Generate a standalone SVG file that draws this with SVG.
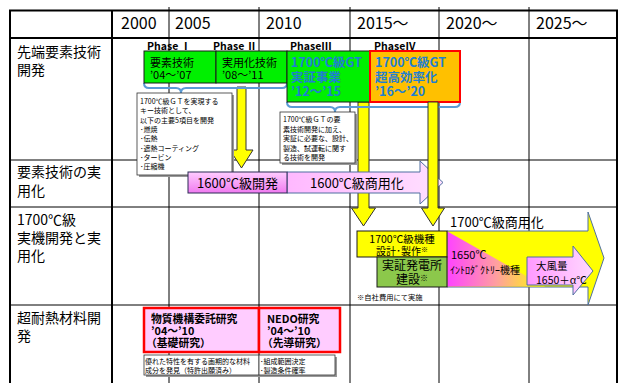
<svg xmlns="http://www.w3.org/2000/svg" width="619" height="383" viewBox="0 0 619 383">
<defs>
<style>
text{font-family:"Noto Sans CJK JP","Noto Sans",sans-serif;fill:#000}
.thick{stroke:#000;stroke-width:2;fill:none}
.thin{stroke:#000;stroke-width:1;fill:none}
.yr{font-size:16px}
.lbl{font-size:14px}
.ph{font-size:10.5px;font-weight:bold}
.gbox{fill:#00f000;stroke:#1a1a1a;stroke-width:1}
.blue{fill:#1f7fd1;font-size:12.5px;font-weight:bold}
.brace{fill:none;stroke:#5b9bd5;stroke-width:2}
.note{fill:#fff;stroke:#333;stroke-width:0.8}
.shadow{fill:#999}
.small{font-size:7px}
.yarrow{fill:#ffff00;stroke:#333;stroke-width:1}
.parrow{stroke:#4f6fa0;stroke-width:1}
.mid{font-size:13px}
.red{fill:#ffccff;stroke:#ff0000;stroke-width:2.5}
.bold11{font-size:10.8px;font-weight:bold}
</style>
<linearGradient id="pinkBox" x1="0" y1="0" x2="0" y2="1">
<stop offset="0" stop-color="#ffccff"/><stop offset="1" stop-color="#f07af0"/>
</linearGradient>
<linearGradient id="pinkArrow" x1="0" y1="0" x2="1" y2="0">
<stop offset="0" stop-color="#ffb8ff"/><stop offset="1" stop-color="#ffe0ff"/>
</linearGradient>
<linearGradient id="pinkSmall" x1="0" y1="0" x2="1" y2="0">
<stop offset="0" stop-color="#ff99ff"/><stop offset="1" stop-color="#ffd8ff"/>
</linearGradient>
<linearGradient id="fade" gradientUnits="userSpaceOnUse" x1="448" y1="0" x2="545" y2="0">
<stop offset="0" stop-color="#ff44ff"/><stop offset="0.5" stop-color="#ff9f9f"/><stop offset="1" stop-color="#ffff00"/>
</linearGradient>
</defs>

<g id="grid">
<line class="thin" x1="169" y1="7" x2="169" y2="383"/>
<line class="thin" x1="259" y1="7" x2="259" y2="383"/>
<line class="thin" x1="350" y1="7" x2="350" y2="383"/>
<line class="thin" x1="439" y1="7" x2="439" y2="383"/>
<line class="thin" x1="529" y1="7" x2="529" y2="383"/>
<line class="thin" x1="10" y1="160" x2="617" y2="160"/>
<line class="thin" x1="10" y1="207" x2="617" y2="207"/>
<line class="thin" x1="10" y1="305" x2="617" y2="305"/>
<line class="thick" x1="9" y1="10.5" x2="618" y2="10.5"/>
<line class="thick" x1="10" y1="10" x2="10" y2="383"/>
<line class="thick" x1="617" y1="10" x2="617" y2="383"/>
<line class="thick" x1="10" y1="38" x2="617" y2="38"/>
<line class="thick" x1="112" y1="10" x2="112" y2="383"/>
</g>

<g id="headers">
<text class="yr" x="121" y="29">2000</text>
<text class="yr" x="175" y="29">2005</text>
<text class="yr" x="266" y="29">2010</text>
<text class="yr" x="357" y="29">2015～</text>
<text class="yr" x="446" y="29">2020～</text>
<text class="yr" x="536" y="29">2025～</text>
<text class="lbl" x="17" y="57">先端要素技術</text>
<text class="lbl" x="17" y="75">開発</text>
<text class="lbl" x="17" y="177">要素技術の実</text>
<text class="lbl" x="17" y="196">用化</text>
<text class="lbl" x="17" y="225">1700℃級</text>
<text class="lbl" x="17" y="243">実機開発と実</text>
<text class="lbl" x="17" y="261">用化</text>
<text class="lbl" x="17" y="323">超耐熱材料開</text>
<text class="lbl" x="17" y="341">発</text>
</g>

<g id="connectors">
<polygon class="yarrow" points="237,87 246,87 246,150 253,150 241.5,168 230,150 237,150"/>
<polygon class="yarrow" points="358,102 369,102 369,208 375.5,208 363.5,226 351.5,208 358,208"/>
<path class="brace" d="M144,83 Q144,88 149,88 L176,88 Q181,88 181,93 Q181,88 186,88 L282,88 Q287,88 287,83"/>
<path class="brace" d="M287,102 Q287,107 292,107 L330,107 Q335,107 335,112 Q335,107 340,107 L455,107 Q460,107 460,102"/>
</g>

<g id="phase1">
<text class="ph" x="147" y="50">Phase Ⅰ</text>
<rect class="gbox" x="144" y="51" width="72" height="32"/>
<text x="150" y="67" font-size="11">要素技術</text>
<text x="150" y="79" font-size="11">’04～’07</text>
</g>
<g id="phase2">
<text class="ph" x="213" y="50">Phase Ⅱ</text>
<rect class="gbox" x="216" y="51" width="71" height="32"/>
<text x="222" y="67" font-size="11">実用化技術</text>
<text x="222" y="79" font-size="11">’08～’11</text>
</g>
<g id="phase3">
<text class="ph" x="290" y="50">PhaseⅢ</text>
<rect class="gbox" x="287" y="51" width="83" height="51"/>
<text class="blue" x="291" y="67">1700℃級GT</text>
<text class="blue" x="291" y="82">実証事業</text>
<text class="blue" x="291" y="96">’12～’15</text>
</g>
<g id="phase4">
<text class="ph" x="374" y="50">PhaseⅣ</text>
<rect x="370" y="51" width="90" height="51" fill="#ffc000" stroke="#ff0000" stroke-width="2"/>
<text class="blue" x="375" y="67">1700℃級GT</text>
<text class="blue" x="375" y="82">超高効率化</text>
<text class="blue" x="375" y="96">’16～’20</text>
</g>

<g id="note1">
<rect class="shadow" x="139" y="95" width="95" height="82"/>
<rect class="note" x="137" y="93" width="95" height="82"/>
<text class="small" x="140" y="104">1700℃級ＧＴを実現する</text>
<text class="small" x="140" y="113.3">キー技術として、</text>
<text class="small" x="140" y="122.6">以下の主要5項目を開発</text>
<text class="small" x="140" y="131.9">･燃焼</text>
<text class="small" x="140" y="141.2">･伝熱</text>
<text class="small" x="140" y="150.5">･遮熱コーティング</text>
<text class="small" x="140" y="159.8">･タービン</text>
<text class="small" x="140" y="169.1">･圧縮機</text>
</g>
<g id="note2">
<rect class="shadow" x="282" y="114" width="75" height="51"/>
<rect class="note" x="280" y="112" width="75" height="51"/>
<text class="small" x="283" y="122">1700℃級ＧＴの要</text>
<text class="small" x="283" y="131.5">素技術開発に加え、</text>
<text class="small" x="283" y="141">実証に必要な、設計、</text>
<text class="small" x="283" y="150.5">製造、試運転に関す</text>
<text class="small" x="283" y="160">る技術を開発</text>
</g>

<g id="commercial1600">
<polygon class="parrow" fill="url(#pinkArrow)" points="287,172 420,172 420,161 443,182.5 420,204 420,193 287,193"/>
<text class="mid" x="310" y="188">1600℃級商用化</text>
</g>
<g id="arrow-phase4">
<polygon class="yarrow" points="428,102 438,102 438,208 444.5,208 433,226 421.5,208 428,208"/>
</g>
<g id="dev1600">
<rect x="188" y="172" width="99" height="21" fill="url(#pinkBox)" stroke="#2b2b55" stroke-width="1"/>
<text class="mid" x="237.5" y="188" text-anchor="middle">1600℃級開発</text>
</g>

<g id="commercial1700">
<text class="mid" x="450" y="227">1700℃級商用化</text>
<polygon class="parrow" fill="#ffff00" points="447,231 588,231 588,212 604,258 588,305 588,287 447,287"/>
<polygon fill="url(#fade)" points="447.5,231.5 447.5,286.5 545,286.5"/>
<text x="451" y="259" font-size="11">1650℃</text>
<text x="450" y="274" font-size="10">ｲﾝﾄﾛﾀﾞｸﾄﾘｰ機種</text>
</g>
<g id="largeflow">
<polygon class="parrow" fill="url(#pinkSmall)" points="527,257 573,257 573,246 593,271 573,295 573,285 527,285"/>
<text x="536" y="270" font-size="10.5">大風量</text>
<text x="536" y="284" font-size="10.5">1650＋α℃</text>
</g>
<g id="design">
<rect x="357" y="231" width="90" height="26" fill="#ffff00" stroke="#1a1a1a" stroke-width="1"/>
<text x="402" y="243" font-size="10.5" text-anchor="middle">1700℃級機種</text>
<text x="402" y="255" font-size="10" text-anchor="middle">設計･製作<tspan font-size="7" dy="-3">※</tspan></text>
</g>
<g id="plant">
<rect x="377" y="257" width="70" height="30" fill="#8cc84b" stroke="#1a1a1a" stroke-width="1"/>
<text x="412" y="270" font-size="12" text-anchor="middle">実証発電所</text>
<text x="412" y="284" font-size="12" text-anchor="middle">建設<tspan font-size="8" dy="-3">※</tspan></text>
<text x="357" y="300" font-size="7.3">※自社費用にて実施</text>
</g>

<g id="nims">
<rect class="red" x="144" y="308" width="115" height="44"/>
<text class="bold11" x="151" y="323">物質機構委託研究</text>
<text class="bold11" x="151" y="335">’04～’10</text>
<text class="bold11" x="146" y="347">（基礎研究）</text>
</g>
<g id="nedo">
<rect class="red" x="259" y="308" width="81" height="44"/>
<text class="bold11" x="267" y="323">NEDO研究</text>
<text class="bold11" x="267" y="335">’04～’10</text>
<text class="bold11" x="262" y="347">（先導研究）</text>
</g>
<g id="note3">
<rect class="shadow" x="146" y="357" width="115" height="20"/>
<rect class="note" x="144" y="355" width="115" height="20"/>
<text class="small" x="145" y="363.5">優れた特性を有する画期的な材料</text>
<text class="small" x="145" y="372.5">成分を発見（特許出願済み）</text>
</g>
<g id="note4">
<rect class="shadow" x="261" y="357" width="76" height="20"/>
<rect class="note" x="259" y="355" width="76" height="20"/>
<text class="small" x="260" y="363.5">･組成範囲決定</text>
<text class="small" x="260" y="372.5">･製造条件確率</text>
</g>
</svg>
